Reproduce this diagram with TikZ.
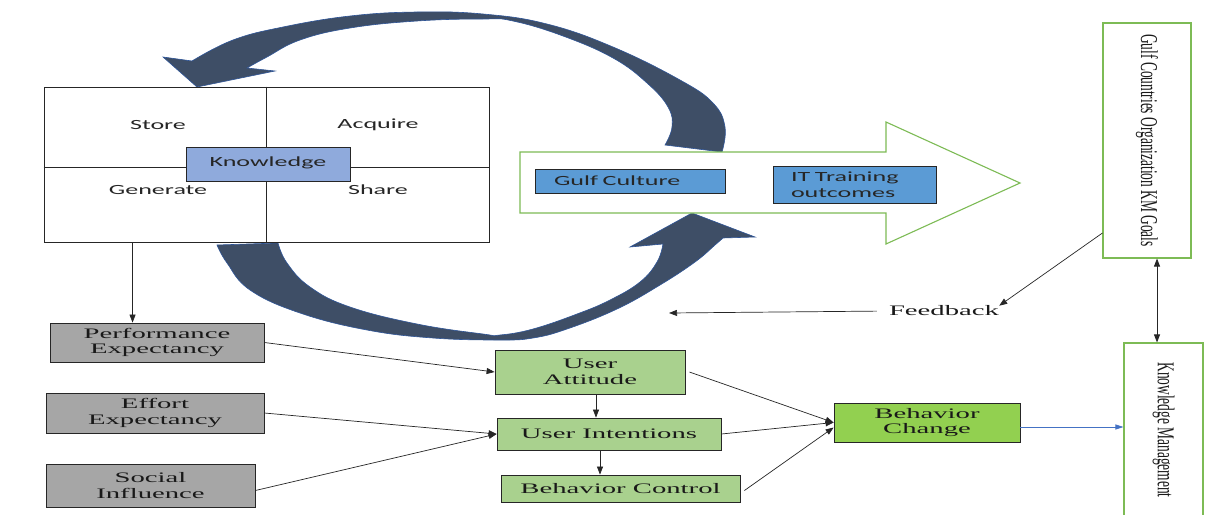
\documentclass[tikz,border=0pt]{standalone}
\usepackage{fontspec}
\usepackage{graphicx}
\newfontfamily\serifS[FakeStretch=1.98]{Liberation Serif}
\newfontfamily\serifR{Liberation Serif}
\newfontfamily\sansS[FakeStretch=1.86]{Carlito}
\usetikzlibrary{arrows.meta,calc}
\definecolor{navy}{HTML}{3E4E66}
\definecolor{navyedge}{HTML}{2F5597}
\definecolor{grayfill}{HTML}{A6A6A6}
\definecolor{ltgreen}{HTML}{A9D18E}
\definecolor{brgreen}{HTML}{92D050}
\definecolor{gedge}{HTML}{7DBB55}
\definecolor{kblue}{HTML}{8FAADC}
\definecolor{mblue}{HTML}{5B9BD5}
\definecolor{linkblue}{HTML}{4472C4}
\begin{document}
\begin{tikzpicture}[x=1pt,y=-1pt,
  serifbox/.style={draw=black!85, line width=0.8pt, inner sep=0pt, font=\serifS\fontsize{14.5}{15.5}\selectfont, align=center, text=black!90},
  graybox/.style={serifbox, fill=grayfill},
  greenbox/.style={serifbox, fill=ltgreen},
  sansbox/.style={draw=black!85, line width=0.8pt, font=\sansS\fontsize{14}{16}\selectfont, text=black!85},
  lbl/.style={font=\sansS\fontsize{14}{16}\selectfont, text=black!85, inner sep=0pt},
  arr/.style={draw=black!85, line width=0.7pt, -{Triangle[length=8pt,width=6pt]}},
  curved/.style={fill=navy, draw=navyedge, line width=0.6pt},
  goalbox/.style={draw=gedge, line width=1.1pt, fill=white, inner sep=0pt, font=\serifR\fontsize{13.4}{15}\selectfont, text=black!90},
]
\clip (0,0) rectangle (1209,514);
\fill[white] (0,0) rectangle (1209,514);

% curved arrows
\filldraw[curved] (192,61) -- plot[smooth, tension=0.7] coordinates {(192,61) (233,40) (283,27) (350,16) (417,12) (483,14) (547,24) (613,47) (680,80) (713,103) (725,127) (722,152)}
  -- (665,145) -- plot[smooth, tension=0.7] coordinates {(665,145) (672,127) (668,107) (647,83) (613,58) (563,36) (513,21) (483,19) (417,21) (350,28) (300,40) (267,57) (247,68)}
  -- (275,71) -- (197,87) -- (163,57) -- cycle;
\filldraw[curved] (217,245) -- plot[smooth, tension=0.7] coordinates {(217,245) (227,263) (250,290) (300,313) (367,330) (433,338) (500,340) (533,338) (567,329) (617,309) (660,285) (695,262) (715,245) (723,238)}
  -- (755,237) -- (692,213) -- (630,247) -- (663,244) -- plot[smooth, tension=0.7] coordinates {(663,244) (657,262) (640,282) (610,300) (577,314) (533,329) (500,335) (483,334) (417,324) (350,307) (310,287) (287,263) (278,243)} -- cycle;

% knowledge square
\node[draw=black!85, line width=0.9pt, fill=white, minimum width=445pt, minimum height=155pt, inner sep=0pt] (kbox) at (266.5,164.5) {};
\draw[black!85, line width=0.9pt] (kbox.north) -- (kbox.south);
\draw[black!85, line width=0.9pt] ([yshift=-2.5pt]kbox.west) -- ([yshift=-2.5pt]kbox.east);
\node[lbl] (store) at (158,125) {Store};
\node[lbl] (acq) at (378,125) {Acquire};
\node[lbl] (gen) at (158,190) {Generate};
\node[lbl] (share) at (378,190) {Share};
\node[sansbox, fill=kblue, minimum width=164pt, minimum height=34pt, inner sep=0pt, text depth=5pt] (know) at (268,164) {Knowledge};

% big green arrow
\draw[draw=gedge, line width=1.1pt, fill=white] (520,152) -- (886,152) -- (886,122) -- (1020,183) -- (886,244) -- (886,213) -- (520,213) -- cycle;
\node[sansbox, fill=mblue, minimum height=24pt, text width=152pt, inner xsep=19pt, inner ysep=0pt, align=left] (gulf) at (630,181) {Gulf Culture};
\node[sansbox, fill=mblue, minimum height=37pt, text width=127pt, inner xsep=18pt, inner ysep=0pt, align=left] (it) at (854.5,184.5) {IT Training\\outcomes};

% right boxes
\node[goalbox, minimum width=88pt, minimum height=235pt] (goals) at (1147,140.5) {\rotatebox{-90}{\scalebox{1}[1.8]{Gulf Countries Organization KM Goals}}};
\node[goalbox, minimum width=79pt, minimum height=174pt] (km) at (1163.5,430) {\rotatebox{-90}{\scalebox{1}[1.8]{Knowledge Management}}};

% left factor boxes
\node[graybox, minimum width=214pt, minimum height=39pt] (perf) at (157,342.5) {Performance\\Expectancy};
\node[graybox, minimum width=218pt, minimum height=40pt] (effort) at (155,413) {Effort\\Expectancy};
\node[graybox, minimum width=209pt, minimum height=43pt] (social) at (150.5,485.5) {Social\\Influence};

% middle boxes
\node[greenbox, minimum width=190pt, minimum height=44pt] (ua) at (590,372) {User\\Attitude};
\node[greenbox, minimum width=224pt, minimum height=32pt] (ui) at (609,434) {User Intentions};
\node[greenbox, minimum width=239pt, minimum height=27pt] (bc) at (620.5,488.5) {Behavior Control};
\node[serifbox, fill=brgreen, minimum width=186pt, minimum height=39pt] (bchg) at (927,422.5) {Behavior\\Change};

\node[font=\serifS\fontsize{14.5}{15.5}\selectfont, text=black!90, inner sep=0pt] (fb) at (944,311) {Feedback};
\coordinate (fbend) at (669,313);

% connectors
\draw[arr] ([xshift=89pt]kbox.south west) -- ([xshift=89pt]kbox.south west |- perf.north);
\draw[arr] (perf.east) -- (ua.west);
\draw[arr] (effort.east) -- (ui.west);
\draw[arr] ([yshift=-5pt]social.east) -- (ui.west);
\draw[arr] ([xshift=6pt]ua.south) -- ([xshift=6pt]ua.south |- ui.north);
\draw[arr] ([xshift=-9pt]ui.south) -- ([xshift=-9pt]ui.south |- bc.north);
\draw[arr] ([xshift=4pt]ua.east) -- (bchg.west);
\draw[arr] (ui.east) -- (bchg.west);
\draw[arr] ([xshift=4pt,yshift=-2pt]bc.east) -- ([yshift=-5pt]bchg.west);
\draw[draw=linkblue, line width=0.7pt, -{Triangle[length=8pt,width=5pt]}] ([yshift=-4.5pt]bchg.east) -- ([yshift=-4.5pt]bchg.east -| km.west);
\draw[draw=black!85, line width=0.8pt, {Triangle[length=8pt,width=6pt]}-{Triangle[length=8pt,width=6pt]}] ([xshift=10pt]goals.south) -- ([xshift=10pt]goals.south |- km.north);
\draw[arr] ([yshift=-92.5pt]goals.west) -- (fb.north east);
\draw[arr, shorten <=12pt] (fb.west) -- (fbend);
\end{tikzpicture}
\end{document}
